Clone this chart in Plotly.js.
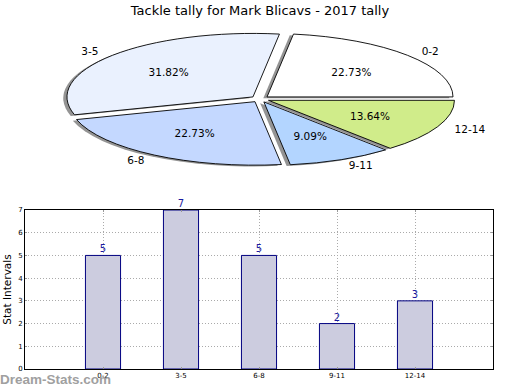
<!DOCTYPE html>
<html><head><meta charset="utf-8">
<script src="https://cdn.plot.ly/plotly-3.0.1.min.js"></script>
<style>html,body{margin:0;padding:0;background:#fff}</style>
</head><body>
<div id="chart" style="width:520px;height:390px"></div>
<script>
// ---- data ----
const categories = ['0-2', '3-5', '6-8', '9-11', '12-14'];
const counts = [5, 7, 5, 2, 3];
const pieColors = ['#ffffff', '#eaf1fe', '#c4d8ff', '#b3d5ff', '#d0ec8a'];
const yTicks = [0, 1, 2, 3, 4, 5, 6, 7];
const titleText = 'Tackle tally for Mark Blicavs - 2017 tally';
const xTitle = 'Frequency';
const yTitle = 'Stat Intervals';
const watermark = 'Dream-Stats.com';

// ---- styling ----
const FONT = 'DejaVu Sans, sans-serif';
const PULL = 0.05;
const ELL = {rx: 186, ry: 63.5, cx: 260, cy: 99};
const TOTAL = counts.reduce((a, b) => a + b, 0);
// first slice should begin at 3 o'clock and run counterclockwise
const ROT = 90 - 360 * counts[0] / TOTAL;

const pieBase = {
  type: 'pie', values: counts, labels: categories, sort: false,
  direction: 'counterclockwise', rotation: ROT,
  pull: categories.map(() => PULL),
  domain: {x: [0, 1], y: [0, 1]},
  hoverinfo: 'skip', showlegend: false,
  textposition: 'inside', insidetextorientation: 'horizontal'
};

const shadowPie = Object.assign({}, pieBase, {
  marker: {colors: categories.map(() => 'rgba(60,60,60,0.55)'), line: {width: 0}},
  textinfo: 'none'
});
const mainPie = Object.assign({}, pieBase, {
  marker: {colors: pieColors, line: {color: '#000', width: 0.9}},
  texttemplate: '%{percent:.2%}',
  textfont: {family: FONT, size: 10.5, color: '#000'}
});
const labelPie = Object.assign({}, pieBase, {
  marker: {colors: categories.map(() => 'rgba(0,0,0,0)'), line: {width: 0}},
  texttemplate: '%{label}',
  textfont: {family: FONT, size: 10.5, color: '#000'}
});

const bars = {
  type: 'bar', x: categories, y: counts, width: 0.45,
  marker: {color: '#ccccdf', line: {color: '#000080', width: 1}},
  text: counts.map(String), textposition: 'outside', cliponaxis: false,
  constraintext: 'none',
  textfont: {family: FONT, size: 10, color: '#1a1aa0'},
  hoverinfo: 'skip', showlegend: false, xaxis: 'x', yaxis: 'y'
};

const layout = {
  width: 520, height: 390,
  margin: {l: 25, r: 27, t: 5, b: 21},
  paper_bgcolor: '#fff', plot_bgcolor: '#fff',
  font: {family: FONT, color: '#000'},
  showlegend: false,
  title: {text: titleText, font: {family: FONT, size: 13, color: '#000'},
          x: 0.5, xanchor: 'center', y: 0.974, yanchor: 'middle'},
  xaxis: {
    domain: [0, 1], type: 'category', range: [-1, 5],
    showline: true, mirror: 'ticks', linecolor: '#000', linewidth: 1,
    ticks: 'inside', ticklen: 2, tickcolor: '#999',
    tickfont: {family: FONT, size: 7, color: '#000'},
    showgrid: true, griddash: '1px,2px', gridcolor: '#aaaaaa', gridwidth: 1,
    zeroline: false,
    title: {text: xTitle, font: {family: FONT, size: 11, color: '#000'}}
  },
  yaxis: {
    domain: [0, 0.4368], range: [0, 7], tickvals: yTicks,
    showline: true, mirror: 'ticks', linecolor: '#000', linewidth: 1,
    ticks: 'inside', ticklen: 2, tickcolor: '#999',
    tickfont: {family: FONT, size: 7, color: '#000'},
    showgrid: true, griddash: '1px,2px', gridcolor: '#aaaaaa', gridwidth: 1,
    zeroline: false,
    title: {text: yTitle, font: {family: FONT, size: 10.5, color: '#000'}, standoff: 4}
  },
  annotations: [{
    text: watermark, xref: 'paper', yref: 'paper',
    x: -27 / 468, xanchor: 'left', y: -11 / 364, yanchor: 'middle',
    showarrow: false, font: {family: 'Liberation Sans, Arial, sans-serif', size: 13.5, color: '#a0a0a0', weight: 'bold'}
  }]
};

function squashPies(gd) {
  const groups = gd.querySelectorAll('.pielayer g.trace');
  if (!groups.length) return;
  const cd0 = gd.calcdata[1] && gd.calcdata[1][0];
  const gs = gd._fullLayout._size;
  const cx = (cd0 && cd0.cx) || (gs.l + gs.w / 2);
  const cy = (cd0 && cd0.cy) || (gs.t + gs.h / 2);
  const r = (cd0 && cd0.r) || (Math.min(gs.w, gs.h) / (2 + 2 * PULL));
  const sx = ELL.rx / r, sy = ELL.ry / r;
  groups.forEach((g, i) => {
    const ox = i === 0 ? -0.02 * ELL.rx : 0;
    const oy = i === 0 ? 0.02 * ELL.ry : 0;
    g.setAttribute('transform',
      'translate(' + (ELL.cx + ox) + ',' + (ELL.cy + oy) + ') scale(' + sx + ',' + sy + ') translate(' + (-cx) + ',' + (-cy) + ')');
    g.querySelectorAll('path').forEach(p => { p.style.vectorEffect = 'non-scaling-stroke'; });
  });
  let cum = 0;
  const mids = counts.map(v => { const m = 2 * Math.PI * (cum + v / 2) / TOTAL; cum += v; return m; });

  function place(group, textEl, px, py, anchor) {
    if (!textEl) return;
    const holder = textEl.parentNode;
    if (holder && holder.parentNode) group.appendChild(holder); // keep text above all slices
    textEl.removeAttribute('transform');
    const bb = textEl.getBBox();
    let ax = bb.x + bb.width / 2;
    if (anchor === 'left') ax = bb.x;
    if (anchor === 'right') ax = bb.x + bb.width;
    const ay = bb.y + bb.height / 2;
    const lx = cx + (px - ELL.cx) / sx;
    const ly = cy + (py - ELL.cy) / sy;
    textEl.setAttribute('transform',
      'translate(' + lx + ',' + ly + ') scale(' + (1 / sx) + ',' + (1 / sy) + ') translate(' + (-ax) + ',' + (-ay) + ')');
  }
  const pctTexts = groups[1] ? Array.from(groups[1].querySelectorAll('g.slice text')) : [];
  const labTexts = groups[2] ? Array.from(groups[2].querySelectorAll('g.slice text')) : [];
  mids.forEach((m, k) => {
    const c = Math.cos(m), s = Math.sin(m);
    const d1 = PULL + 0.6, d2 = PULL + 1.1;
    place(groups[1], pctTexts[k], ELL.cx + d1 * ELL.rx * c, ELL.cy - d1 * ELL.ry * s, 'center');
    place(groups[2], labTexts[k], ELL.cx + d2 * ELL.rx * c, ELL.cy - d2 * ELL.ry * s, c > 0 ? 'left' : 'right');
  });
}

function nudgeTexts(gd) {
  // the reference's x-axis title sits lower, partly cut by the figure edge
  const xt = gd.querySelector('.g-xtitle');
  if (xt) xt.setAttribute('transform', 'translate(0,6)');
  // bar value labels sit right on top of the bars
  gd.querySelectorAll('.barlayer .bartext').forEach(t => {
    const tr = t.getAttribute('transform') || '';
    t.setAttribute('transform', 'translate(0,2) ' + tr);
  });
}

Plotly.newPlot('chart', [bars, shadowPie, mainPie, labelPie], layout, {staticPlot: true, responsive: false})
  .then(gd => { squashPies(gd); nudgeTexts(gd); });
</script>
</body></html>
